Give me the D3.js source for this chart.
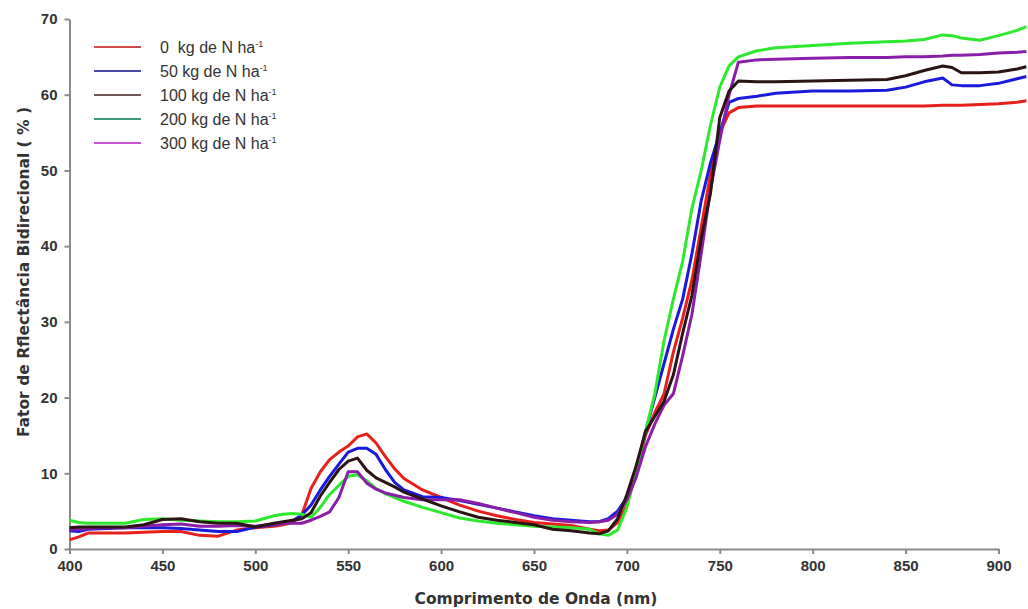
<!DOCTYPE html>
<html>
<head>
<meta charset="utf-8">
<script src="https://cdn.jsdelivr.net/npm/d3@7/dist/d3.min.js"></script>
<style>
  html, body { margin: 0; padding: 0; background: #fff; }
  svg { display: block; font-family: Arial, "Liberation Sans", sans-serif; }
</style>
</head>
<body>
<svg id="chart" width="1028" height="609"></svg>
<script>
// ---- data ----
const wavelengths = [400,405,410,420,430,440,450,460,470,480,490,500,510,515,520,525,530,535,540,545,550,555,560,565,570,575,580,590,600,610,620,630,640,650,660,670,680,685,690,695,700,705,710,715,720,725,730,735,740,745,750,755,760,770,780,800,820,840,850,860,870,875,880,890,900,910,915];

const n0 = [1.2,1.6,2.1,2.1,2.1,2.2,2.3,2.3,1.8,1.7,2.5,2.8,3.0,3.2,3.5,4.5,8.0,10.2,11.8,12.8,13.6,14.8,15.2,14.0,12.2,10.6,9.3,7.8,6.8,5.8,5.0,4.4,3.9,3.5,3.3,3.1,2.6,2.4,2.5,3.5,5.8,10.0,15.0,18.0,20.5,26.0,30.5,35.5,42.5,49.5,55.0,57.6,58.3,58.5,58.5,58.5,58.5,58.5,58.5,58.5,58.6,58.6,58.6,58.7,58.8,59.0,59.2];

const n50 = [2.4,2.3,2.6,2.7,2.8,2.8,2.8,2.7,2.5,2.3,2.3,2.9,3.2,3.4,3.7,4.5,5.8,7.8,9.6,11.2,12.8,13.3,13.3,12.5,10.5,8.8,7.8,6.9,6.8,6.4,5.9,5.4,4.9,4.4,4.0,3.8,3.6,3.6,4.0,5.0,6.8,10.5,15.5,20.0,24.5,29.0,33.0,39.0,46.0,51.0,55.0,59.0,59.5,59.8,60.2,60.5,60.5,60.6,61.0,61.7,62.2,61.3,61.2,61.2,61.5,62.1,62.4];

const n100 = [2.8,2.9,2.9,2.9,2.9,3.2,3.9,4.0,3.6,3.4,3.4,2.9,3.4,3.6,3.8,4.0,4.8,7.0,8.8,10.5,11.6,12.0,10.4,9.4,8.8,8.2,7.5,6.6,5.7,4.9,4.2,3.8,3.5,3.2,2.6,2.4,2.1,2.0,2.4,4.0,7.2,11.0,15.5,17.5,19.5,23.0,28.5,33.5,41.0,47.0,57.0,60.5,61.8,61.7,61.7,61.8,61.9,62.0,62.5,63.2,63.8,63.6,62.9,62.9,63.0,63.4,63.7];

const n200 = [3.8,3.5,3.4,3.4,3.4,3.9,4.0,3.8,3.7,3.6,3.6,3.7,4.4,4.6,4.7,4.6,4.2,5.5,7.2,8.4,9.6,9.8,9.0,8.0,7.3,6.8,6.3,5.5,4.8,4.1,3.7,3.4,3.2,3.0,2.9,2.8,2.6,2.0,1.8,2.5,5.5,10.5,15.5,20.5,27.5,33.0,38.0,45.0,50.0,56.0,61.0,63.8,65.0,65.8,66.2,66.5,66.8,67.0,67.1,67.3,67.9,67.8,67.5,67.2,67.8,68.5,69.0];

const n300 = [2.6,2.6,2.7,2.8,2.8,3.0,3.2,3.3,3.0,3.0,3.1,3.0,3.3,3.4,3.4,3.4,3.8,4.3,4.9,6.8,10.2,10.2,8.7,7.9,7.4,7.1,6.8,6.5,6.5,6.5,6.0,5.4,4.8,4.2,3.8,3.6,3.5,3.6,3.8,4.6,6.5,9.5,13.5,16.5,19.0,20.5,25.5,31.0,39.0,47.5,54.0,60.0,64.3,64.6,64.7,64.8,64.9,64.9,65.0,65.0,65.1,65.2,65.2,65.3,65.5,65.6,65.7];

const seriesNames = ["0  kg de N ha", "50 kg de N ha", "100 kg de N ha", "200 kg de N ha", "300 kg de N ha"];
const seriesValues = [n0, n50, n100, n200, n300];
const lineColors = ["#e8201c", "#1a1adc", "#2b1414", "#2ee82e", "#8a1ea8"];
const legendColors = ["#d04a4a", "#4a4aa8", "#705858", "#3a9a78", "#d050d8"];
const drawOrder = [0, 1, 3, 4, 2];

const xTicks = [400,450,500,550,600,650,700,750,800,850,900];
const yTicks = [0,10,20,30,40,50,60,70];

// ---- chart ----
const svg = d3.select("#chart");
const x = d3.scaleLinear().domain([400, 900]).range([69.5, 998.5]);
const y = d3.scaleLinear().domain([0, 70]).range([549, 19]);

const axisColor = "#8a8a8a";
const textColor = "#333";

// x axis
const gx = svg.append("g").attr("transform", `translate(0,${y(0)})`)
  .call(d3.axisBottom(x).tickValues(xTicks).tickSize(5).tickSizeOuter(0).tickPadding(6));
gx.select(".domain").attr("stroke", axisColor).attr("stroke-width", 2);
gx.selectAll(".tick line").attr("stroke", axisColor).attr("stroke-width", 2);
gx.selectAll(".tick text").attr("fill", textColor).style("font-size", "15px").style("font-weight", "bold");

// y axis
const gy = svg.append("g").attr("transform", `translate(${x(400)},0)`)
  .call(d3.axisLeft(y).tickValues(yTicks).tickSize(5).tickSizeOuter(0).tickPadding(7));
gy.select(".domain").attr("stroke", axisColor).attr("stroke-width", 2);
gy.selectAll(".tick line").attr("stroke", axisColor).attr("stroke-width", 2);
gy.selectAll(".tick text").attr("fill", textColor).style("font-size", "15px").style("font-weight", "bold");

// lines
const line = d3.line().x((d, i) => x(wavelengths[i])).y(d => y(d)).curve(d3.curveLinear);
drawOrder.forEach(k => {
  svg.append("path")
    .datum(seriesValues[k])
    .attr("fill", "none")
    .attr("stroke", lineColors[k])
    .attr("stroke-width", 3)
    .attr("stroke-linejoin", "round")
    .attr("d", line);
});

// axis titles
svg.append("text")
  .attr("x", 536).attr("y", 604)
  .attr("text-anchor", "middle")
  .attr("fill", textColor)
  .style("font-family", "'DejaVu Sans', Verdana, sans-serif")
  .style("font-size", "15.5px").style("font-weight", "bold")
  .text("Comprimento de Onda (nm)");

svg.append("text")
  .attr("transform", `translate(29,272) rotate(-90)`)
  .attr("text-anchor", "middle")
  .attr("fill", textColor)
  .style("font-family", "'DejaVu Sans', Verdana, sans-serif")
  .style("font-size", "15.5px").style("font-weight", "bold")
  .style("white-space", "pre")
  .text("Fator de Rflectância Bidirecional ( % )");

// legend
const legendY = [47, 71, 95, 119, 143];
seriesNames.forEach((name, i) => {
  svg.append("line")
    .attr("x1", 94).attr("x2", 141)
    .attr("y1", legendY[i]).attr("y2", legendY[i])
    .attr("stroke", legendColors[i]).attr("stroke-width", 2);
  const t = svg.append("text")
    .attr("x", 160).attr("y", legendY[i] + 6)
    .attr("fill", textColor)
    .style("font-size", "16px")
    .style("white-space", "pre");
  t.append("tspan").text(name);
  t.append("tspan").attr("dy", -6).style("font-size", "9px").text("-1");
});
</script>
</body>
</html>
